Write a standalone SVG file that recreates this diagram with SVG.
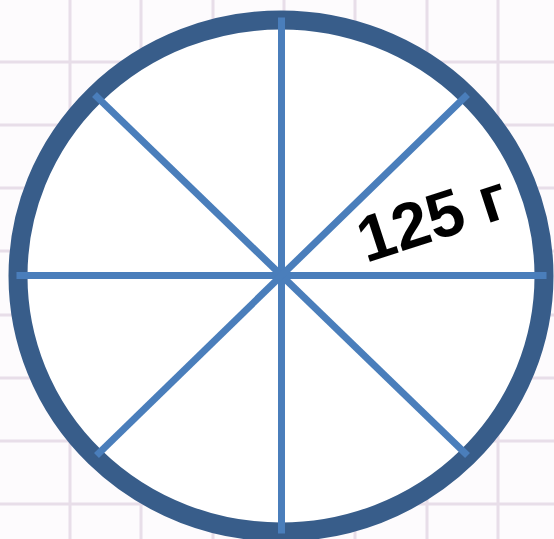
<svg xmlns="http://www.w3.org/2000/svg" width="554" height="539" viewBox="0 0 554 539">
<style>
.grid line{stroke:#e8dee9;stroke-width:3}
.spoke{stroke:#4a7ebb;stroke-width:7;stroke-linecap:square}
.rim{fill:#ffffff;stroke:#385d8a;stroke-width:19}
.lbl{font-family:"Liberation Sans",Arial,sans-serif;font-weight:bold;font-size:65px;fill:#000000}
</style>
<rect width="554" height="539" fill="#fdfbfd"/>
<g class="grid">
<line x1="70" y1="0" x2="70" y2="539"/>
<line x1="141" y1="0" x2="141" y2="539"/>
<line x1="213" y1="0" x2="213" y2="539"/>
<line x1="284" y1="0" x2="284" y2="539"/>
<line x1="355" y1="0" x2="355" y2="539"/>
<line x1="427" y1="0" x2="427" y2="539"/>
<line x1="498" y1="0" x2="498" y2="539"/>
<line x1="0" y1="62" x2="554" y2="62"/>
<line x1="0" y1="125" x2="554" y2="125"/>
<line x1="0" y1="188" x2="554" y2="188"/>
<line x1="0" y1="251" x2="554" y2="251"/>
<line x1="0" y1="315" x2="554" y2="315"/>
<line x1="0" y1="378" x2="554" y2="378"/>
<line x1="0" y1="441" x2="554" y2="441"/>
<line x1="0" y1="504" x2="554" y2="504"/>
</g>
<g id="circle">
<ellipse class="rim" cx="281" cy="276" rx="263" ry="256"/>
</g>
<g id="spokes">
<line class="spoke" x1="20" y1="275.5" x2="543" y2="275.5"/>
<line class="spoke" x1="281.5" y1="21" x2="281.5" y2="530"/>
<line class="spoke" x1="97" y1="97" x2="465" y2="453"/>
<line class="spoke" x1="465" y1="97" x2="99" y2="453"/>
</g>
<g id="label">
<text class="lbl" transform="translate(366,263) rotate(-18)">125 г</text>
</g>
</svg>
